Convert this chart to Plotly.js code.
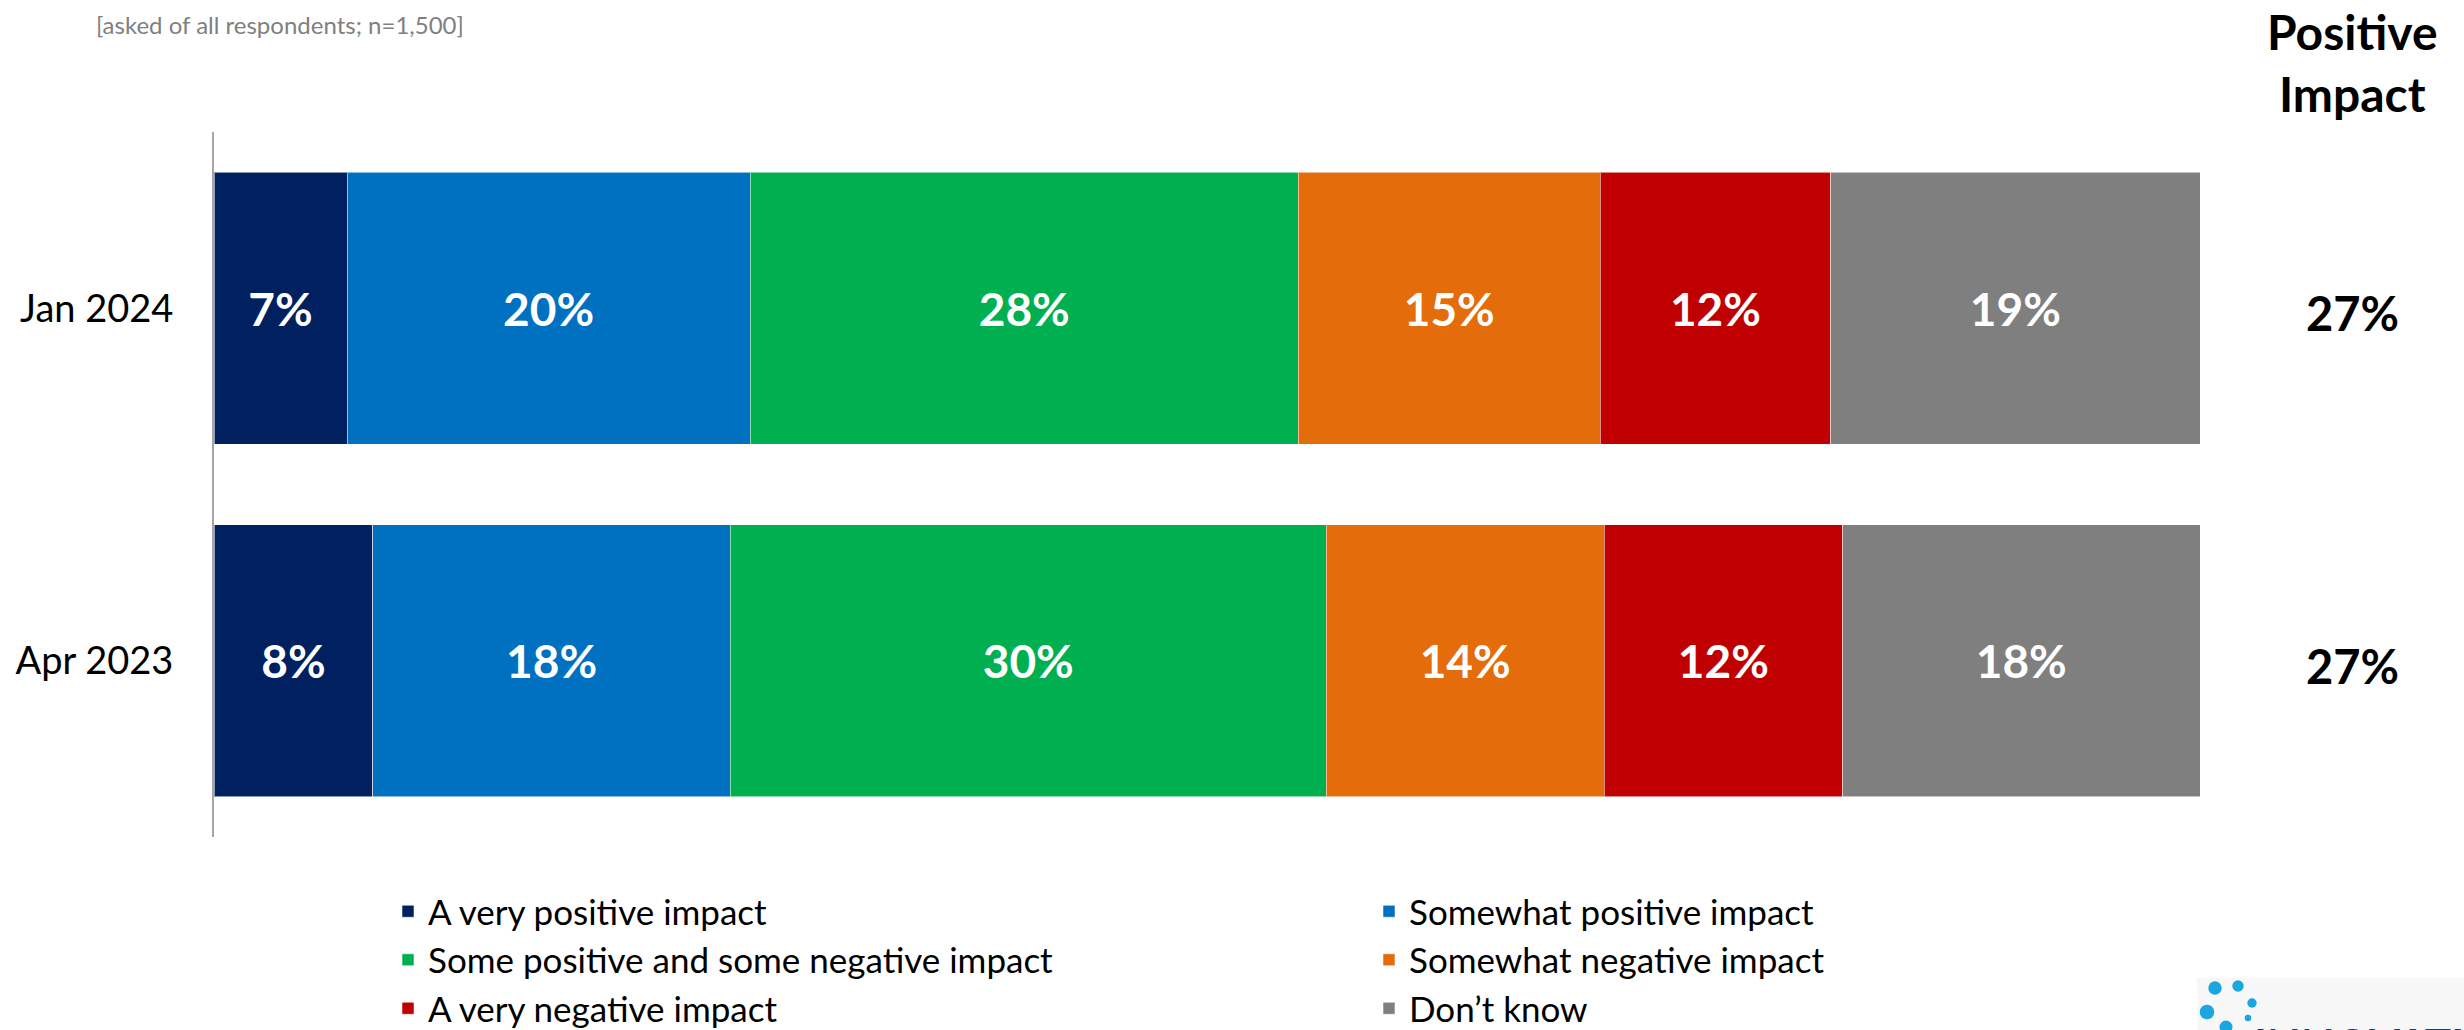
<!DOCTYPE html>
<html>
<head>
<meta charset="utf-8">
<script src="https://cdn.plot.ly/plotly-3.0.1.min.js"></script>
<style>html,body{margin:0;padding:0;background:#fff;}#chart{width:2464px;height:1030px;}</style>
</head>
<body>
<div id="chart"></div>
<script>
// ---- data ----
var periods = ['Jan 2024', 'Apr 2023'];
var seriesNames = [
  'A very positive impact',
  'Somewhat positive impact',
  'Some positive and some negative impact',
  'Somewhat negative impact',
  'A very negative impact',
  'Don\u2019t know'
];
var veryPositive = [6.7, 8.0];
var somewhatPositive = [20.3, 18.0];
var mixedImpact = [27.6, 30.0];
var somewhatNegative = [15.2, 14.0];
var veryNegative = [11.6, 12.0];
var dontKnow = [18.6, 18.0];
var positiveImpact = [27, 27];
var seriesColors = ['#002060', '#0070C0', '#00B050', '#E46C0A', '#C00000', '#7F7F7F'];
var subtitleText = '[asked of all respondents; n=1,500]';
var sideTitle = 'Positive<br>Impact';
var logoText = 'INNOVATIVE';

// ---- layout helpers (page pixels -> paper) ----
var W = 2464, H = 1030;
var mL = 214, mR = 264, mT = 132, mB = 193;
var pw = W - mL - mR, ph = H - mT - mB;
function px(x) { return (x - mL) / pw; }
function py(y) { return (H - mB - y) / ph; }

var FONT = 'Lato, "Open Sans", sans-serif';
var seriesValues = [veryPositive, somewhatPositive, mixedImpact, somewhatNegative, veryNegative, dontKnow];

var traces = seriesValues.map(function (vals, i) {
  return {
    type: 'bar',
    orientation: 'h',
    name: seriesNames[i],
    y: periods,
    x: vals,
    marker: { color: seriesColors[i], line: { color: 'rgba(255,255,255,0.55)', width: 1 } },
    texttemplate: '<b>%{x:.0f}%</b>',
    textposition: 'inside',
    insidetextanchor: 'middle',
    constraintext: 'none',
    textangle: 0,
    textfont: { family: FONT, size: 46, color: '#FFFFFF' },
    hoverinfo: 'skip'
  };
});

var annotations = [
  {
    xref: 'paper', yref: 'paper', x: px(94), y: py(25), xanchor: 'left', yanchor: 'middle',
    text: subtitleText, showarrow: false, font: { family: FONT, size: 24, color: '#7F7F7F' }
  },
  {
    xref: 'paper', yref: 'paper', x: px(2352), y: py(62), xanchor: 'center', yanchor: 'middle',
    text: '<b>' + sideTitle + '</b>', showarrow: false, align: 'center',
    font: { family: FONT, size: 48, color: '#000000' }
  },
  {
    xref: 'paper', yref: 'paper', x: px(2252), y: py(1016), xanchor: 'left', yanchor: 'top',
    text: '<b>' + logoText + '</b>', showarrow: false,
    font: { family: FONT, size: 44, color: '#1F3864' }
  }
];
periods.forEach(function (p, i) {
  annotations.push({
    xref: 'paper', yref: 'y', x: px(2352), y: p, xanchor: 'center', yanchor: 'middle', yshift: -5,
    text: '<b>' + positiveImpact[i] + '%</b>', showarrow: false,
    font: { family: FONT, size: 47, color: '#000000' }
  });
});

function dot(cx, cy, r) {
  return { type: 'circle', xref: 'paper', yref: 'paper', x0: px(cx - r), x1: px(cx + r), y0: py(cy + r), y1: py(cy - r),
           fillcolor: '#1AA7E0', line: { width: 0 }, layer: 'above' };
}
var shapes = [
  { type: 'rect', xref: 'paper', yref: 'paper', x0: px(2197), x1: px(2470), y0: py(1035), y1: py(978),
    fillcolor: '#F7F7F7', line: { width: 0 }, layer: 'below' },
  dot(2215, 988, 6.7), dot(2238, 986, 5.7), dot(2252, 1003, 4.7),
  dot(2207, 1012, 7.3), dot(2248, 1018, 3.3), dot(2226, 1027, 6.5)
];

var layout = {
  width: W, height: H,
  margin: { l: mL, r: mR, t: mT, b: mB, autoexpand: false },
  paper_bgcolor: '#FFFFFF', plot_bgcolor: '#FFFFFF',
  barmode: 'stack',
  bargap: 0.228,
  showlegend: true,
  hovermode: false,
  font: { family: FONT, color: '#000000' },
  xaxis: { range: [0, 100], visible: false, fixedrange: true },
  yaxis: {
    type: 'category', categoryorder: 'array', categoryarray: ['Apr 2023', 'Jan 2024'],
    range: [-0.5, 1.5], showline: true, linecolor: '#A6A6A6', linewidth: 2,
    ticks: '', showgrid: false, zeroline: false, ticklabelstandoff: 31,
    tickfont: { family: FONT, size: 38, color: '#000000' }, fixedrange: true
  },
  legend: {
    orientation: 'h', x: px(388), xanchor: 'left', y: py(882), yanchor: 'top',
    traceorder: 'normal', entrywidth: 936, entrywidthmode: 'pixels',
    font: { family: FONT, size: 35, color: '#000000' }, bgcolor: 'rgba(0,0,0,0)'
  },
  annotations: annotations,
  shapes: shapes
};

Plotly.newPlot('chart', traces, layout, { staticPlot: true, displayModeBar: false });
</script>
</body>
</html>
